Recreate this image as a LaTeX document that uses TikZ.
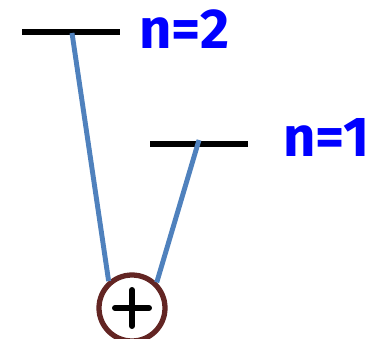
\documentclass[tikz,border=0pt]{standalone}
\usepackage{fontspec}
\setmainfont{Fira Sans}
\usetikzlibrary{positioning}

\definecolor{leveltext}{HTML}{0000FF}
\definecolor{transblue}{HTML}{4F81BD}
\definecolor{ionbrown}{HTML}{632523}

\begin{document}
\begin{tikzpicture}[
    x=0.02cm, y=0.02cm,
    level/.style={draw=black, line width=3pt},
    levellabel/.style={text=leveltext, font=\fontsize{32}{36}\selectfont\bfseries, inner sep=0pt, anchor=west},
    transition/.style={draw=transblue, line width=2.8pt},
    ion/.style={circle, draw=ionbrown, line width=3pt, minimum size=1.32cm, inner sep=0pt},
    plus/.style={draw=black, line width=3.4pt, line cap=round}
]
\useasboundingbox (0,0) rectangle (381,338);
% energy levels
\coordinate (lvltwoW) at (22,306);
\coordinate (lvltwoE) at (120,306);
\coordinate (lvloneW) at (150,194);
\coordinate (lvloneE) at (248,194);
\draw[level] (lvltwoW) -- (lvltwoE);
\draw[level] (lvloneW) -- (lvloneE);
\node[levellabel, right=0.38cm of lvltwoE, yshift=0.06cm] (labtwo) {n=2};
\node[levellabel, right=0.7cm of lvloneE, yshift=0.14cm] (labone) {n=1};
% ion core
\node[ion] (core) at (132,30) {};
\draw[plus] ([xshift=-0.34cm]core.center) -- ([xshift=0.34cm]core.center);
\draw[plus] ([yshift=-0.36cm]core.center) -- ([yshift=0.36cm]core.center);
% transitions
\coordinate (toptwo) at (72,305);
\coordinate (topone) at (199,198);
\draw[transition] (toptwo) -- (core.131);
\draw[transition] (topone) -- (core.46);
\end{tikzpicture}
\end{document}
